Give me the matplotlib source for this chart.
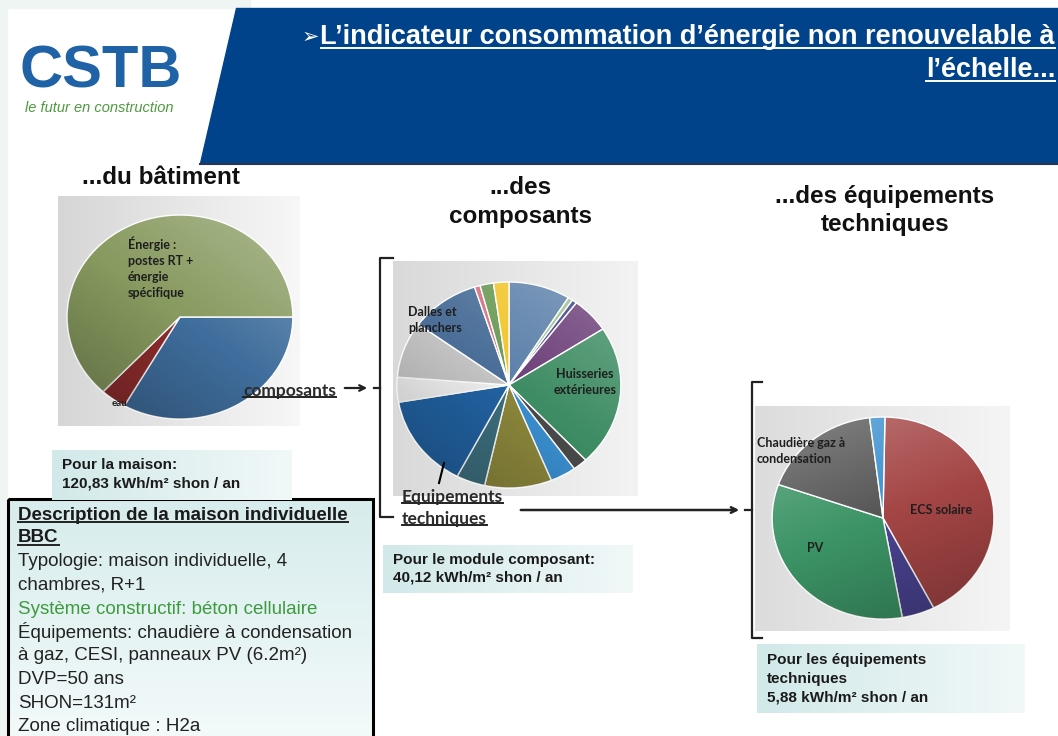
import numpy as np
import matplotlib.pyplot as plt
from matplotlib.patches import Rectangle, Polygon, Circle
from matplotlib.colors import to_rgb

W, H = 1058, 736

# ...du bâtiment (kWh/m² shon / an)
bat_labels = ['composants', 'eau', 'Énergie :\npostes RT +\nénergie\nspécifique']
bat_values = [40.12, 4.5, 76.21]
bat_colors = ['#3f6d9c', '#8e2d2d', '#879a5f']

# ...des composants
comp_labels = ['', '', '', '', 'Huisseries\nextérieures', '', '', '', '',
               'Equipements techniques', '', '', 'Dalles et\nplanchers', '', '', '']
comp_values = [3.57, 0.28, 0.28, 2.23, 8.88, 0.84, 1.50, 3.88, 1.67,
               5.88, 1.56, 3.53, 4.01, 0.33, 0.78, 0.89]
comp_colors = ['#5b80aa', '#9cc08e', '#3b3f8c', '#6b3d78', '#3d8c63', '#4a4a4a',
               '#3a8fd0', '#8c873c', '#3d6f7e', '#2262a2', '#eeeeee', '#c4c4c4',
               '#4a6e98', '#d4727f', '#6a9a55', '#f2c52a']

# ...des équipements techniques
equip_labels = ['ECS solaire', '', 'PV', 'Chaudière gaz à\ncondensation', '']
equip_values = [2.48, 0.28, 1.95, 1.04, 0.13]
equip_colors = ['#a44545', '#4a4391', '#3c9466', '#555555', '#3a8fd0']

desc_lines = ['Typologie: maison individuelle, 4', 'chambres, R+1',
              'Système constructif: béton cellulaire',
              'Équipements: chaudière à condensation',
              'à gaz, CESI, panneaux PV (6.2m²)', 'DVP=50 ans', 'SHON=131m²',
              'Zone climatique : H2a']

SANS = ['Liberation Sans', 'DejaVu Sans']
NARROW = ['Liberation Sans Narrow', 'Liberation Sans', 'DejaVu Sans']
CAL = ['Lato', 'DejaVu Sans']

fig = plt.figure(figsize=(W / 100, H / 100), dpi=100)
fig.patch.set_facecolor('white')

bg = fig.add_axes([0, 0, 1, 1])
bg.set_xlim(0, W)
bg.set_ylim(H, 0)
bg.axis('off')


def grad_box(ax, x0, y0, x1, y1, c0, c1, z=1, vertical=False):
    t = np.linspace(0, 1, 256)[:, None]
    c0, c1 = np.array(to_rgb(c0)), np.array(to_rgb(c1))
    g = c0 + (c1 - c0) * t
    img = g[:, None, :] if vertical else g[None, :, :]
    ax.imshow(img, extent=(x0, x1, y1, y0), aspect='auto', zorder=z,
              interpolation='bilinear')


# slide background
bg.add_patch(Rectangle((0, 0), 250, 8, color='#eef5f3', zorder=0))
bg.add_patch(Rectangle((0, 0), 7, H, color='#eef5f3', zorder=0))
bg.add_patch(Polygon([(236, 8), (W, 8), (W, 163), (200, 163)], closed=True,
                     color='#00438b', zorder=1))
bg.plot([200, W], [164, 164], color='#2a3550', lw=1.5, zorder=1)

# grey panels behind the pies
grad_box(bg, 58, 196, 300, 426, '#d6d6d6', '#f7f7f7', z=1)
grad_box(bg, 393, 261, 638, 496, '#d9d9d9', '#f3f3f3', z=1)
grad_box(bg, 755, 406, 1010, 631, '#dcdcdc', '#f5f5f5', z=1)

# description box + value boxes
grad_box(bg, 8, 499, 373, H + 5, '#d7ecec', '#f3fafa', z=2, vertical=True)
bg.add_patch(Rectangle((8, 499), 365, 250, fill=False, ec='black', lw=2.2, zorder=3))
grad_box(bg, 52, 450, 292, 500, '#d2e9e9', '#f1f8f8', z=4)
grad_box(bg, 383, 545, 633, 593, '#d2e9e9', '#f1f8f8', z=4)
grad_box(bg, 757, 644, 1025, 713, '#d2e9e9', '#f1f8f8', z=4)
bg.set_xlim(0, W)
bg.set_ylim(H, 0)

# logo
bg.text(20, 88, 'CSTB', fontsize=43, fontweight='bold', color='#1f62a6',
        family=SANS, va='baseline', zorder=5)
bg.text(25, 101, 'le futur en construction', fontsize=10.5, style='italic',
        color='#4d9a3c', family=NARROW, va='top', zorder=5)

# headings
hk = dict(fontsize=17.5, fontweight='bold', family=SANS, va='center',
          color='#111111', zorder=5)
bg.text(82, 178, '...du bâtiment', **hk)
bg.text(520, 188, '...des', ha='center', **hk)
bg.text(520, 216, 'composants', ha='center', **hk)
bg.text(885, 196, '...des équipements', ha='center', **hk)
bg.text(885, 224, 'techniques', ha='center', **hk)

# value boxes text
box_kw = dict(fontsize=11, fontweight='bold', family=SANS, color='#1a1a1a',
              va='center', zorder=6)
bg.text(62, 465, 'Pour la maison:', **box_kw)
bg.text(62, 483, '120,83 kWh/m² shon / an', **box_kw)
bg.text(393, 560, 'Pour le module composant:', **box_kw)
bg.text(393, 578, '40,12 kWh/m² shon / an', **box_kw)
bg.text(767, 660, 'Pour les équipements', **box_kw)
bg.text(767, 679, 'techniques', **box_kw)
bg.text(767, 698, '5,88 kWh/m² shon / an', **box_kw)

# description text
under = []
t1 = bg.text(18, 515, 'Description de la maison individuelle', fontsize=13.5,
             fontweight='bold', family=SANS, va='center', color='#1a1a1a', zorder=6)
t2 = bg.text(18, 538, 'BBC', fontsize=13.5, fontweight='bold', family=SANS,
             va='center', color='#1a1a1a', zorder=6)
under += [t1, t2]
for i, line in enumerate(desc_lines):
    col = '#3d9b3d' if line.startswith('Système') else '#222222'
    bg.text(18, 562 + i * 23.5, line, fontsize=13.5, family=SANS, va='center',
            color=col, zorder=6)


def pie_axes(cx, cy, rx, ry):
    return fig.add_axes([(cx - rx) / W, 1 - (cy + ry) / H, 2 * rx / W, 2 * ry / H])


def shade(ax, kx, ky, a=0.28):
    yy, xx = np.mgrid[1:-1:200j, -1:1:200j]
    s = np.clip(kx * xx + ky * yy, -1, 1)
    rgba = np.zeros((200, 200, 4))
    rgba[..., :3] = (s > 0)[..., None] * 1.0
    rgba[..., 3] = np.abs(s) * a
    im = ax.imshow(rgba, extent=(-1, 1, -1, 1), zorder=5, interpolation='bilinear')
    im.set_clip_path(Circle((0, 0), 1, transform=ax.transData))


def draw_pie(ax, vals, cols, start, kx, ky):
    ax.pie(vals, colors=cols, startangle=start, counterclock=False, radius=1,
           wedgeprops=dict(edgecolor='white', linewidth=1.0))
    shade(ax, kx, ky)
    ax.set_xlim(-1.01, 1.01)
    ax.set_ylim(-1.01, 1.01)
    ax.set_aspect('auto')
    ax.axis('off')


ax1 = pie_axes(180, 317, 114, 103)
draw_pie(ax1, bat_values, bat_colors, 0, 0.5, 0.6)
ax2 = pie_axes(509, 385, 113, 104)
draw_pie(ax2, comp_values, comp_colors, 90, 0.4, 0.5)
ax3 = pie_axes(883, 518, 112, 102)
draw_pie(ax3, equip_values, equip_colors, 89, -0.3, 0.7)

# overlay for labels, brackets and arrows
top = fig.add_axes([0, 0, 1, 1])
top.set_xlim(0, W)
top.set_ylim(H, 0)
top.axis('off')
top.patch.set_alpha(0)

lab = dict(fontsize=9, fontweight='bold', family=CAL, color='#1e1e1e')
top.text(128, 268, bat_labels[2], va='center', linespacing=1.4, **lab)
top.text(112, 404, bat_labels[1], va='center', fontsize=7, fontweight='bold',
         family=CAL, color='#1e1e1e')
top.text(408, 320, comp_labels[12], va='center', linespacing=1.4, **lab)
top.text(585, 382, comp_labels[4], ha='center', va='center', linespacing=1.4, **lab)
top.text(941, 510, equip_labels[0], ha='center', va='center', **lab)
top.text(815, 548, equip_labels[2], ha='center', va='center', **lab)
top.text(757, 451, equip_labels[3], va='center', linespacing=1.4, **lab)

lk = dict(fontsize=12.5, fontweight='bold', family=CAL, color='#2a2a2a', va='center')
tc = top.text(243, 391, bat_labels[0], **lk)
te1 = top.text(402, 497, 'Equipements', **lk)
te2 = top.text(402, 519, 'techniques', **lk)
under += [tc, te1, te2]
top.plot([439, 444], [483, 463], color='black', lw=1.5)

# brackets and arrows
top.plot([393, 380, 380, 393], [258, 258, 517, 517], color='#222222', lw=1.6)
top.plot([374, 380], [388, 388], color='#222222', lw=1.6)
top.annotate('', xy=(370, 388), xytext=(342, 388),
             arrowprops=dict(arrowstyle='->', lw=1.6, color='#222222'))
top.plot([762, 752, 752, 762], [382, 382, 638, 638], color='#222222', lw=1.6)
top.plot([745, 752], [510, 510], color='#222222', lw=1.6)
top.annotate('', xy=(742, 510), xytext=(518, 510),
             arrowprops=dict(arrowstyle='->', lw=1.8, color='#222222'))

# title
ta = top.text(1055, 37, 'L’indicateur consommation d’énergie non renouvelable à',
              fontsize=19.5, fontweight='bold', family=NARROW, color='white',
              ha='right', va='center')
tb = top.text(1055, 70, 'l’échelle...', fontsize=19.5, fontweight='bold',
              family=NARROW, color='white', ha='right', va='center')

fig.canvas.draw()
inv = top.transData.inverted()
bb = ta.get_window_extent()
x0 = inv.transform((bb.x0, bb.y0))[0]
top.text(x0 - 1, 37, '➢', fontsize=15, color='white', ha='right', va='center',
         family=['DejaVu Sans'])
for t, col in [(ta, 'white'), (tb, 'white')] + [(t, '#222222') for t in under]:
    bb = t.get_window_extent()
    (a, b) = inv.transform((bb.x0, bb.y0))
    (c, _) = inv.transform((bb.x1, bb.y0))
    top.plot([a, c], [b - 2, b - 2], color=col, lw=1.4)

fig.savefig('out.png', dpi=100)
